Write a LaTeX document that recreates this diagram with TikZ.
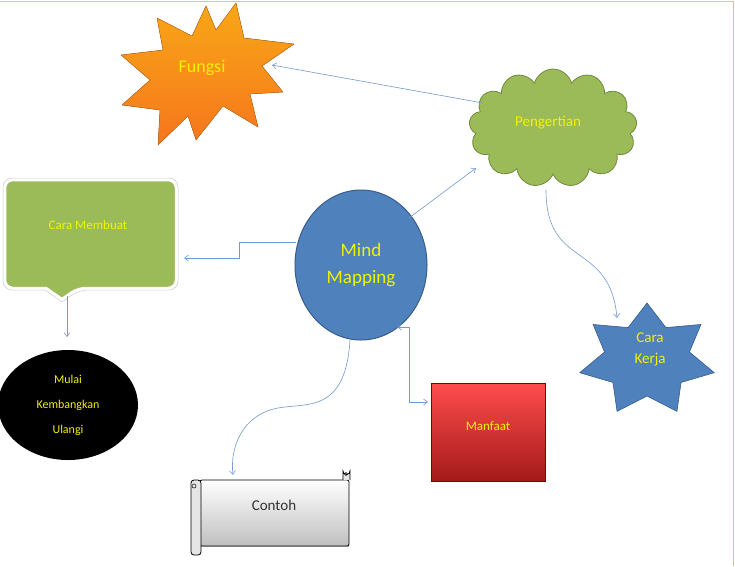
\documentclass[tikz,border=0pt]{standalone}
\usepackage{fontspec}
\setmainfont{Carlito}
\usetikzlibrary{shapes.symbols,shapes.geometric,arrows.meta}
\definecolor{lblue}{HTML}{4F81BD}
\definecolor{dblue}{HTML}{385D8A}
\definecolor{lgreen}{HTML}{9BBB59}
\definecolor{dgreen}{HTML}{71893F}
\definecolor{txty}{HTML}{F2F200}
\definecolor{orng}{HTML}{F58220}
\tikzset{conn/.style={draw=lblue!80,line width=0.6pt,-{Straight Barb[length=4pt,width=6pt]}},
 lbl/.style={text=txty,font=\fontsize{15}{17}\selectfont,align=center}}
\begin{document}
\begin{tikzpicture}[x=1pt,y=-1pt]
\useasboundingbox (0,0) rectangle (735,566);
\fill[white] (0,0) rectangle (735,566);
\draw[draw=brown!50,line width=1pt] (0,1) -- (733,1) -- (733,566);
% Fungsi starburst
\fill[top color=orng!70!yellow,bottom color=orng!90!red,draw=orng!80!black,line width=0.4pt]
 (236,3) -- (244,38) -- (294,44) -- (262,66) -- (283,92) -- (250,94) -- (258,127) -- (223,106) -- (196,140) -- (188,116) -- (158,145) -- (160,110) -- (122,105) -- (150,80) -- (121,55) -- (163,50) -- (157,18) -- (192,36) -- (206,6) -- (216,30) -- cycle;
\node[lbl,font=\fontsize{18}{20}\selectfont] (fungsi) at (202,68) {Fungsi};
\coordinate (fungsiE) at (272,65);
% Pengertian cloud
\node[cloud,cloud puffs=13,aspect=1.5,minimum width=168pt,minimum height=118pt,fill=lgreen,draw=dgreen,line width=0.8pt] (peng) at (553,128) {};
\node[lbl] at (548,123) {Pengertian};
% Mind Mapping
\node[ellipse,minimum width=132pt,minimum height=150pt,fill=lblue,draw=dblue,line width=1pt,lbl,font=\fontsize{19}{27}\selectfont] (mind) at (361,265) {Mind\\Mapping};
% Callout
\draw[fill=lgreen,draw=white,line width=2.5pt,rounded corners=8pt] (5,180) -- (176,180) -- (176,288) -- (78,288) [sharp corners] -- (62,299) -- (46,288) [rounded corners=8pt] -- (5,288) -- cycle;
\draw[black!20,line width=0.5pt,rounded corners=9pt] (3,178) -- (178,178) -- (178,290) -- (79,290) [sharp corners] -- (62,302) -- (45,290) [rounded corners=9pt] -- (3,290) -- cycle;
\node[lbl,font=\fontsize{13}{15}\selectfont] (cara) at (88,225) {Cara Membuat};
% Black ellipse
\node[ellipse,minimum width=140pt,minimum height=110pt,fill=black,lbl,font=\fontsize{12}{25}\selectfont] (mulai) at (68,405) {Mulai\\Kembangkan\\Ulangi};
% Cara Kerja star (7 points)
\begin{scope}[shift={(647,360)},xscale=1.21]
\filldraw[fill=lblue,draw=dblue,line width=0.6pt] (-90:57) \foreach \i in {1,...,13}{ -- ({-90+\i*180/7}:{ifthenelse(mod(\i,2)==0,57,36)}) } -- cycle;
\end{scope}
\node[lbl,font=\fontsize{15}{21}\selectfont] (kerja) at (650,349) {Cara\\Kerja};
% Manfaat
\shade[top color=red!70!white,bottom color=red!60!black!90] (431,383) rectangle (545,481);
\draw[red!50!black,line width=0.4pt] (431,383) rectangle (545,481);
\node[lbl,font=\fontsize{13}{15}\selectfont] (manf) at (488,426) {Manfaat};
\coordinate (manfW) at (428,402);
% Contoh scroll
\shade[top color=white,bottom color=black!25] (200,480) rectangle (349,546);
\draw[black,line width=0.8pt,rounded corners=2pt] (200,480) rectangle (349,546);
\draw[black,line width=0.8pt,fill=black!10,rounded corners=3pt] (191,480) rectangle (201,555);
\draw[black,line width=0.8pt,fill=black!10] (343,480) -- (343,471) arc(180:0:3.5) -- (350,480);
\draw[black,line width=0.5pt] (346,474) circle(1.6);
\draw[black,line width=0.5pt] (194,486) circle(2);
\node[font=\fontsize{15}{17}\selectfont,text=black!80] (contoh) at (274,505) {Contoh};
% connectors
\draw[conn] (483,103) -- (fungsiE);
\draw[conn] (409,218) -- (476,168);
\draw[conn] (296,242) -- (239,242) -- (239,258) -- (184,258);
\draw[conn] (67,296) -- (67,337);
\draw[conn] (546,190) .. controls (546,270) and (610,240) .. (617,318);
\draw[conn] (350,340) .. controls (345,420) and (300,400) .. (270,410) .. controls (240,420) and (230,450) .. (233,475);
\draw[conn,{Straight Barb[length=4pt,width=6pt]}-{Straight Barb[length=4pt,width=6pt]}] (397,327) -- (409,327) -- (409,402) -- (manfW);
\end{tikzpicture}
\end{document}
